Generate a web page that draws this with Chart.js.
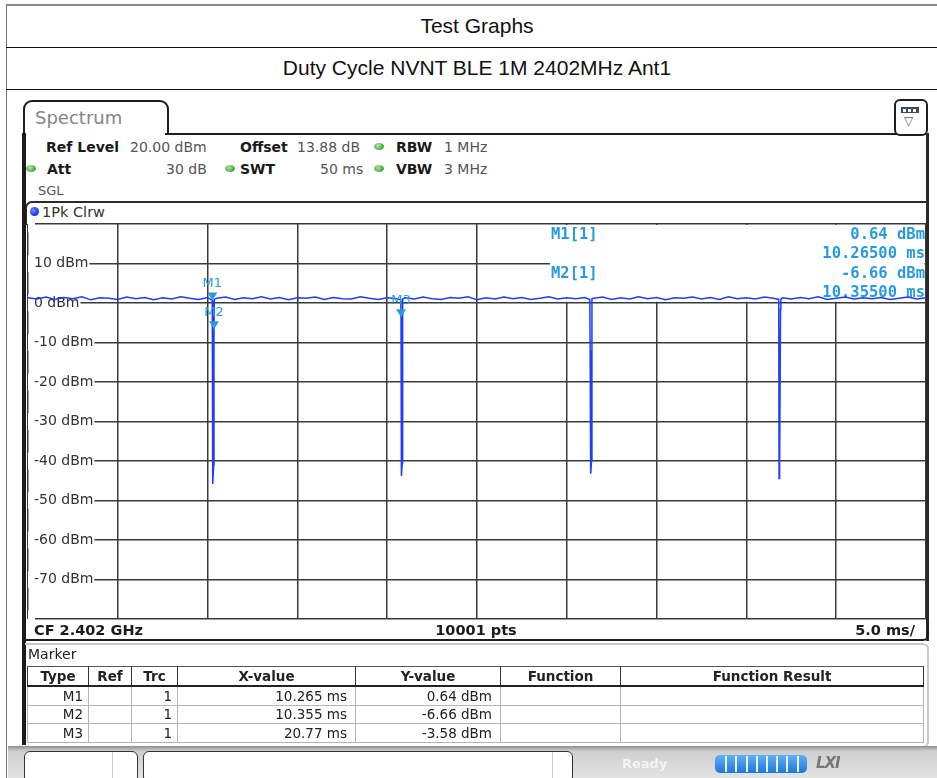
<!DOCTYPE html>
<html>
<head>
<meta charset="utf-8">
<script src="https://cdn.jsdelivr.net/npm/chart.js@4.4.1/dist/chart.umd.min.js"></script>
<style>
  html, body { margin:0; padding:0; background:#fff; }
  body { width:937px; height:778px; position:relative; overflow:hidden; font-family:'DejaVu Sans', sans-serif; }
  .abs { position:absolute; }
  .title { position:absolute; left:0; width:954px; text-align:center; font-family:'Liberation Sans', Arial, sans-serif; font-size:21px; color:#111; }
  .hdr { position:absolute; font-size:14px; color:#555; white-space:nowrap; line-height:16px; }
  .hdr b { color:#1a1a1a; }
  .gdot { position:absolute; width:10px; height:7px; border-radius:50%; background:radial-gradient(circle at 40% 35%, #b8e6a8, #3fa53a 70%); }
  table.mk { position:absolute; left:27px; top:666px; width:896px; table-layout:fixed; border-collapse:collapse; font-family:'DejaVu Sans', sans-serif; font-size:13.5px; color:#222; }
  table.mk th { font-weight:bold; height:18px; padding:0; border-left:1px solid #333; border-right:1px solid #333; border-top:1px solid #555; border-bottom:2px solid #222; text-align:center; line-height:16px; }
  table.mk td { height:17.5px; padding:0 5px 0 0; border:1px solid #b5b5b5; text-align:right; line-height:16px; }
  table.mk td.v { padding-right:8px; }
</style>
</head>
<body>
<!-- page header table -->
<div class="abs" style="left:6px;top:4px;width:940px;height:0;border-top:2px solid #8a8a8a;"></div>
<div class="abs" style="left:6px;top:5px;width:0;height:780px;border-left:1.5px solid #777;"></div>
<div class="abs" style="left:6px;top:47px;width:940px;height:0;border-top:1px solid #111;"></div>
<div class="abs" style="left:6px;top:89px;width:940px;height:0;border-top:1px solid #111;"></div>
<div class="title" style="top:14px;">Test Graphs</div>
<div class="title" style="top:56px;">Duty Cycle NVNT BLE 1M 2402MHz Ant1</div>

<!-- analyzer tab and frame -->
<div class="abs" style="left:23px;top:100px;width:142px;height:33px;border:2px solid #1e1e1e;border-bottom:none;border-radius:9px 9px 0 0;background:#fff;"></div>
<div class="abs" style="left:35px;top:107px;font-size:18px;color:#858585;">Spectrum</div>
<div class="abs" style="left:165px;top:133px;width:764px;height:0;border-top:2px solid #1e1e1e;"></div>
<div class="abs" style="left:894px;top:99px;width:30px;height:33px;border:2px solid #1e1e1e;border-radius:6px;background:#fff;"></div>
<div class="abs" style="left:901px;top:107px;width:18px;height:6px;background:#3b4a63;"></div>
<div class="abs" style="left:903px;top:108.5px;width:3px;height:3px;background:#fff;"></div>
<div class="abs" style="left:908px;top:108.5px;width:3px;height:3px;background:#fff;"></div>
<div class="abs" style="left:913px;top:108.5px;width:3px;height:3px;background:#fff;"></div>
<div class="abs" style="left:904px;top:115px;font-size:12px;color:#555;line-height:12px;">&#9661;</div>

<!-- header info -->
<div class="hdr" style="left:46px;top:139px;"><b>Ref Level</b></div>
<div class="hdr" style="left:130px;top:139px;">20.00 dBm</div>
<div class="hdr" style="left:240px;top:139px;"><b>Offset</b></div>
<div class="hdr" style="left:297px;top:139px;">13.88 dB</div>
<div class="gdot" style="left:374px;top:143px;"></div>
<div class="hdr" style="left:396px;top:139px;"><b>RBW</b></div>
<div class="hdr" style="left:444px;top:139px;">1 MHz</div>
<div class="gdot" style="left:26px;top:165px;"></div>
<div class="hdr" style="left:47px;top:161px;"><b>Att</b></div>
<div class="hdr" style="left:166px;top:161px;">30 dB</div>
<div class="gdot" style="left:225px;top:165px;"></div>
<div class="hdr" style="left:240px;top:161px;"><b>SWT</b></div>
<div class="hdr" style="left:320px;top:161px;">50 ms</div>
<div class="gdot" style="left:374px;top:165px;"></div>
<div class="hdr" style="left:396px;top:161px;"><b>VBW</b></div>
<div class="hdr" style="left:444px;top:161px;">3 MHz</div>
<div class="hdr" style="left:38px;top:183px;font-size:13px;">SGL</div>

<!-- trace label box -->
<div class="abs" style="left:25px;top:201px;width:902px;height:22px;border-top:2px solid #2a2a2a;border-left:2px solid #2a2a2a;border-radius:7px 0 0 0;"></div>
<div class="abs" style="left:30px;top:207px;width:9px;height:9px;border-radius:50%;background:radial-gradient(circle at 35% 35%, #6f8cff, #1030e0 70%);"></div>
<div class="hdr" style="left:42px;top:204px;color:#333;font-size:14.5px;">1Pk Clrw</div>

<!-- chart -->
<div class="abs" style="left:26px;top:222px;width:903px;height:400px;">
  <canvas id="c"></canvas>
</div>

<!-- left & right frame -->
<div class="abs" style="left:22px;top:133px;width:4px;height:612px;background:#1b1b1b;"></div>
<div class="abs" style="left:926px;top:133px;width:3px;height:508px;background:#2a2a2a;"></div>

<!-- bottom info row -->
<div class="abs" style="left:22px;top:621px;width:905px;height:18px;border-bottom:2px solid #1e1e1e;border-right:2px solid #1e1e1e;border-radius:0 0 6px 0;"></div>
<div class="hdr" style="left:34px;top:622px;font-weight:bold;color:#1a1a1a;font-size:14.5px;">CF 2.402 GHz</div>
<div class="hdr" style="left:0;width:952px;text-align:center;top:622px;font-weight:bold;color:#1a1a1a;font-size:14.5px;">10001 pts</div>
<div class="hdr" style="right:22px;top:622px;font-weight:bold;color:#1a1a1a;font-size:14.5px;">5.0 ms/</div>

<!-- marker panel -->
<div class="abs" style="left:25px;top:643px;width:902px;height:101px;border:2px solid #c8c8c8;border-left:none;border-radius:0 6px 6px 0;"></div>
<div class="hdr" style="left:28px;top:646px;color:#222;">Marker</div>
<table class="mk" id="mk">
  <colgroup><col style="width:61px"><col style="width:43px"><col style="width:46px"><col style="width:178px"><col style="width:145px"><col style="width:120px"><col style="width:303px"></colgroup>
  <tr><th>Type</th><th>Ref</th><th>Trc</th><th>X-value</th><th>Y-value</th><th>Function</th><th>Function Result</th></tr>
</table>

<!-- status bar -->
<div class="abs" style="left:8px;top:746px;width:940px;height:34px;background:linear-gradient(#8e8e8e 0px, #cfcfcf 5px, #e4e4e4 100%);"></div>
<div class="abs" style="left:24px;top:751px;width:112px;height:30px;border:1px solid #333;border-radius:6px;background:#fff;"></div>
<div class="abs" style="left:112px;top:752px;width:1px;height:26px;background:#ccc;"></div>
<div class="abs" style="left:143px;top:751px;width:428px;height:30px;border:1px solid #333;border-radius:6px;background:#fff;"></div>
<div class="abs" style="left:552px;top:752px;width:1px;height:26px;background:#ccc;"></div>
<div class="hdr" style="left:622px;top:756px;color:#f4f4f4;font-weight:bold;font-size:13px;">Ready</div>
<div class="abs" style="left:715px;top:755px;width:92px;height:18px;border-radius:5px;background:linear-gradient(#5fb0f5,#1e78d8);"></div>
<div id="segs"></div>
<div class="hdr" style="left:816px;top:755px;color:#777;font-weight:bold;font-style:italic;font-size:15px;letter-spacing:-1px;">LXI</div>

<script>
// ---- data ----
const traceTimes = [
  0,0.5,1,1.5,2,2.5,3,3.5,4,4.5,5,5.5,6,6.5,7,7.5,8,8.5,9,9.5,10,
  10.26,10.27,10.3,10.34,10.355,10.37,
  10.5,11,11.5,12,12.5,13,13.5,14,14.5,15,15.5,16,16.5,17,17.5,18,18.5,19,19.5,20,20.5,
  20.76,20.77,20.79,20.84,20.86,
  21,21.5,22,22.5,23,23.5,24,24.5,25,25.5,26,26.5,27,27.5,28,28.5,29,29.5,30,30.5,31,
  31.28,31.3,31.33,31.38,31.4,
  31.5,32,32.5,33,33.5,34,34.5,35,35.5,36,36.5,37,37.5,38,38.5,39,39.5,40,40.5,41,41.5,
  41.8,41.82,41.85,41.9,41.92,
  42,42.5,43,43.5,44,44.5,45,45.5,46,46.5,47,47.5,48,48.5,49,49.5,50
];
const traceLevels = [
  1.3,1.0,1.5,0.9,1.4,1.1,1.6,0.8,1.3,1.2,0.9,1.5,1.1,1.4,0.8,1.3,1.0,1.6,1.2,0.9,1.4,
  0.64,-39.5,-45.8,-41.0,-6.66,0.9,
  1.2,1.5,0.9,1.3,1.1,1.6,1.0,1.4,0.8,1.3,1.2,1.5,0.9,1.4,1.1,1.0,1.6,1.2,0.9,1.3,1.1,
  0.8,-3.58,-43.8,-40.5,1.0,
  1.3,1.0,1.5,1.1,0.9,1.4,1.2,1.6,0.8,1.3,1.0,1.5,1.1,1.4,0.9,1.2,1.6,1.0,1.3,1.1,1.4,
  0.9,-12.0,-43.2,-40.0,1.1,
  1.2,1.5,0.9,1.3,1.0,1.6,1.1,1.4,0.8,1.3,1.2,1.5,1.0,1.4,0.9,1.6,1.1,1.3,1.0,1.5,1.2,
  0.9,-44.4,-40.5,-1.5,1.0,
  1.3,1.0,1.4,1.1,1.6,0.9,1.2,1.5,1.0,1.3,1.1,1.4,0.9,1.2,1.5,1.0,1.3
];
const markerNames  = ['M1','M2','M3'];
const markerTimes  = [10.265, 10.355, 20.77];
const markerLevels = [0.64, -6.66, -3.58];
const markerXText  = ['10.265 ms','10.355 ms','20.77 ms'];
const yTickValues  = [20,10,0,-10,-20,-30,-40,-50,-60,-70,-80];
const xRangeMs     = [0, 50];
const infoMarkers  = [0, 1];   // markers listed in the on-screen marker info block

// ---- marker table ----
const tbl = document.getElementById('mk');
markerNames.forEach((n, i) => {
  const tr = document.createElement('tr');
  [n, '', '1', markerXText[i], markerLevels[i].toFixed(2) + ' dBm', '', ''].forEach((v, j) => {
    const td = document.createElement('td'); td.textContent = v;
    if (j === 3 || j === 4) td.className = 'v';
    tr.appendChild(td);
  });
  tbl.appendChild(tr);
});
// status progress segments
const segs = document.getElementById('segs');
for (let k = 1; k < 9; k++) {
  const d = document.createElement('div');
  d.className = 'abs';
  d.style.cssText = `left:${715 + k * 10.2}px;top:756px;width:2px;height:16px;background:#eaf4ff;`;
  segs.appendChild(d);
}

const INFO_COLOR = '#2a9ae0';
const overlay = {
  id: 'overlay',
  beforeDatasetsDraw(chart) {
    const { ctx, chartArea: a, scales: { y } } = chart;
    const y0 = y.getPixelForValue(0);
    const left = 524;
    ctx.save();
    ctx.fillStyle = '#fff';
    ctx.fillRect(left, a.top + 1, a.right - 1.5 - left, y0 - 1.2 - a.top - 1);
    ctx.fillStyle = INFO_COLOR;
    ctx.font = 'bold 15.5px "DejaVu Sans Mono"';
    ctx.textBaseline = 'middle';
    infoMarkers.forEach((m, k) => {
      const ty = a.top + 11 + k * 39;
      ctx.textAlign = 'left';
      ctx.fillText(markerNames[m] + '[1]', left + 1, ty);
      ctx.textAlign = 'right';
      ctx.fillText(markerLevels[m].toFixed(2) + ' dBm', a.right - 1, ty);
      ctx.fillText(markerTimes[m].toFixed(5) + ' ms', a.right - 1, ty + 18.5);
    });
    ctx.restore();
  },
  afterDatasetsDraw(chart) {
    const { ctx, scales: { x, y } } = chart;
    ctx.save();
    ctx.fillStyle = INFO_COLOR;
    ctx.font = '13px "DejaVu Sans"';
    ctx.textAlign = 'center';
    ctx.textBaseline = 'middle';
    markerNames.forEach((n, i) => {
      const px = x.getPixelForValue(markerTimes[i]);
      const py = y.getPixelForValue(markerLevels[i]);
      ctx.beginPath();
      ctx.moveTo(px - 5, py - 8);
      ctx.lineTo(px + 5, py - 8);
      ctx.lineTo(px, py);
      ctx.closePath();
      ctx.fill();
      ctx.fillText(n, px, py - 17);
    });
    ctx.restore();
  }
};

new Chart(document.getElementById('c'), {
  type: 'line',
  data: {
    datasets: [{
      data: traceTimes.map((t, i) => ({ x: t, y: traceLevels[i] })),
      borderColor: '#1f3cff',
      borderWidth: 1.5,
      pointRadius: 0,
      tension: 0,
      fill: false
    }]
  },
  options: {
    responsive: true,
    maintainAspectRatio: false,
    animation: false,
    events: [],
    layout: { padding: { left: 2, top: 2, right: 3, bottom: 3 } },
    plugins: { legend: { display: false }, tooltip: { enabled: false } },
    scales: {
      x: {
        type: 'linear', min: xRangeMs[0], max: xRangeMs[1],
        ticks: { display: false, stepSize: 5 },
        grid: { color: '#3a3a3a', lineWidth: 1.5, drawTicks: false },
        border: { display: false },
        afterFit(s) { s.height = 0; s.paddingLeft = 0; s.paddingRight = 0; }
      },
      y: {
        type: 'linear', min: -80, max: 20,
        afterBuildTicks(s) { s.ticks = yTickValues.map(v => ({ value: v })); },
        ticks: {
          mirror: true, padding: 6,
          color: '#333',
          font: { family: 'DejaVu Sans', size: 14 },
          callback: v => (v === 20 || v === -80) ? '' : v + ' dBm',
          showLabelBackdrop: true,
          backdropColor: '#fff',
          backdropPadding: { left: 6, right: 1, top: 0, bottom: 0 }
        },
        grid: { color: '#3a3a3a', lineWidth: 1.5, drawTicks: false },
        border: { display: false },
        afterFit(s) { s.width = 0; s.paddingTop = 0; s.paddingBottom = 0; }
      }
    }
  },
  plugins: [overlay]
});
</script>
</body>
</html>
